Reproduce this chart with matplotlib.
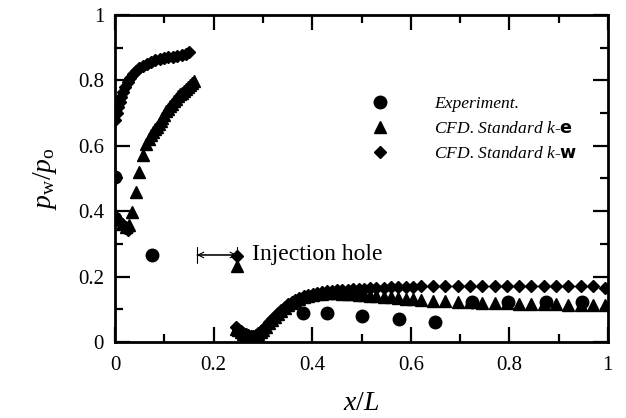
import matplotlib
matplotlib.use("Agg")
import matplotlib.pyplot as plt

plt.rcParams['font.family'] = ['Liberation Serif', 'DejaVu Serif']
plt.rcParams['mathtext.fontset'] = 'custom'
plt.rcParams['mathtext.rm'] = 'Liberation Serif'
plt.rcParams['mathtext.it'] = 'Liberation Serif:italic'
plt.rcParams['mathtext.bf'] = 'DejaVu Sans:bold'

# Experiment
exp_x = [0.0, 0.074, 0.381, 0.43, 0.501, 0.576, 0.649, 0.724, 0.797, 0.874, 0.947]
exp_y = [0.505, 0.266, 0.088, 0.089, 0.080, 0.070, 0.061, 0.122, 0.122, 0.122, 0.122]

# CFD k-epsilon, upstream of the hole
ke_up_x = [0.0, 0.007, 0.014, 0.021, 0.028, 0.034, 0.042, 0.049, 0.056, 0.062,
           0.068, 0.072, 0.076, 0.08, 0.084, 0.088, 0.092, 0.096, 0.1, 0.104,
           0.108, 0.112, 0.116, 0.12, 0.124, 0.128, 0.132, 0.136, 0.14, 0.144,
           0.148, 0.152, 0.156, 0.16]
ke_up_y = [0.39, 0.375, 0.36, 0.352, 0.358, 0.398, 0.459, 0.52, 0.572, 0.605,
           0.622, 0.632, 0.641, 0.65, 0.658, 0.667, 0.676, 0.685, 0.695, 0.705,
           0.713, 0.721, 0.729, 0.737, 0.744, 0.751, 0.757, 0.763, 0.769, 0.775,
           0.781, 0.787, 0.793, 0.799]

# CFD k-omega, upstream of the hole
kw_up_x = [0.0, 0.007, 0.014, 0.02, 0.026,
           0.0, 0.003, 0.006, 0.009, 0.012, 0.016, 0.02, 0.025, 0.03, 0.036,
           0.042, 0.049, 0.056, 0.064, 0.072, 0.081, 0.09, 0.099, 0.108, 0.117,
           0.126, 0.135, 0.143, 0.15]
kw_up_y = [0.385, 0.37, 0.36, 0.35, 0.343,
           0.68, 0.70, 0.72, 0.735, 0.75, 0.765, 0.78, 0.795, 0.808, 0.82,
           0.83, 0.838, 0.845, 0.851, 0.856, 0.861, 0.865, 0.868, 0.871, 0.873,
           0.876, 0.879, 0.882, 0.886]

# at the injection hole
hole_ke = (0.247, 0.232)
hole_kw = (0.247, 0.262)

# downstream of the hole
down_x = [0.245, 0.25, 0.255, 0.26, 0.265, 0.27, 0.275, 0.28, 0.285, 0.29,
          0.295, 0.3, 0.306, 0.312, 0.318, 0.324, 0.33, 0.337, 0.344, 0.351,
          0.358, 0.366, 0.374, 0.383, 0.392, 0.401, 0.41, 0.42, 0.43, 0.44,
          0.45, 0.461, 0.472, 0.483, 0.494, 0.506, 0.518, 0.53, 0.545, 0.56,
          0.575, 0.59, 0.605, 0.62, 0.645, 0.67, 0.695, 0.72, 0.745, 0.77,
          0.795, 0.82, 0.845, 0.87, 0.895, 0.92, 0.945, 0.97, 0.995]
ke_down_y = [0.04, 0.035, 0.03, 0.025, 0.02, 0.017, 0.015, 0.016, 0.02, 0.025,
             0.031, 0.038, 0.047, 0.057, 0.067, 0.077, 0.086, 0.095, 0.104, 0.112,
             0.119, 0.126, 0.132, 0.137, 0.141, 0.144, 0.146, 0.148, 0.149, 0.149,
             0.149, 0.148, 0.147, 0.146, 0.145, 0.143, 0.142, 0.14, 0.138, 0.136,
             0.134, 0.132, 0.13, 0.128, 0.126, 0.124, 0.122, 0.121, 0.12, 0.119,
             0.118, 0.117, 0.116, 0.116, 0.115, 0.114, 0.114, 0.113, 0.112]
kw_down_y = [0.045, 0.04, 0.034, 0.028, 0.023, 0.02, 0.018, 0.019, 0.022, 0.027,
             0.033, 0.04, 0.05, 0.06, 0.07, 0.08, 0.089, 0.098, 0.107, 0.115,
             0.122, 0.129, 0.135, 0.14, 0.145, 0.148, 0.151, 0.153, 0.155, 0.157,
             0.158, 0.159, 0.16, 0.161, 0.162, 0.163, 0.164, 0.165, 0.166, 0.167,
             0.168, 0.168, 0.169, 0.17, 0.17, 0.171, 0.171, 0.172, 0.172, 0.172,
             0.172, 0.172, 0.172, 0.172, 0.172, 0.171, 0.17, 0.17, 0.165]

hole_start = 0.166
hole_end = 0.247
hole_y = 0.266

fig = plt.figure(figsize=(6.26, 4.18), dpi=100)
ax = fig.add_axes([0.184, 0.182, 0.787, 0.782])

ax.plot(exp_x, exp_y, 'o', color='black', ms=9, ls='none', label='Experiment.', zorder=3)
ax.plot(ke_up_x + [hole_ke[0]] + down_x, ke_up_y + [hole_ke[1]] + ke_down_y, '^',
        color='black', ms=8, ls='none',
        label=r'CFD. Standard k-$\mathbf{e}$')
ax.plot(kw_up_x + [hole_kw[0]] + down_x, kw_up_y + [hole_kw[1]] + kw_down_y, 'D',
        color='black', ms=6.6, ls='none',
        label=r'CFD. Standard k-$\mathbf{w}$')

# injection hole marker
ax.annotate('', xy=(hole_start, hole_y), xytext=(hole_end, hole_y),
            arrowprops=dict(arrowstyle='<->', lw=0.8, color='black', shrinkA=0, shrinkB=0))
ax.annotate('', xy=(hole_start, hole_y), xytext=(hole_end, hole_y),
            arrowprops=dict(arrowstyle='|-|,widthA=0.6,widthB=0.6', lw=0.8, color='black',
                            shrinkA=0, shrinkB=0))
ax.text(0.278, hole_y, 'Injection hole', fontsize=17, va='center', ha='left')

ax.set_xlim(0, 1)
ax.set_ylim(0, 1)
ax.set_xticks([0, 0.2, 0.4, 0.6, 0.8, 1])
ax.set_xticklabels(['0', '0.2', '0.4', '0.6', '0.8', '1'])
ax.set_yticks([0, 0.2, 0.4, 0.6, 0.8, 1])
ax.set_yticklabels(['0', '0.2', '0.4', '0.6', '0.8', '1'])
ax.set_xticks([0.1, 0.3, 0.5, 0.7, 0.9], minor=True)
ax.set_yticks([0.1, 0.3, 0.5, 0.7, 0.9], minor=True)
ax.tick_params(which='both', direction='in', top=True, right=True, width=1.6, labelsize=15)
ax.tick_params(which='major', length=11)
ax.tick_params(axis='x', which='major', pad=10)
ax.tick_params(axis='y', which='major', pad=8)
ax.tick_params(which='minor', length=6)
for s in ax.spines.values():
    s.set_linewidth(2)

ax.set_xlabel(r'$x/L$', fontsize=20, labelpad=12)
ax.set_ylabel(r'$p_{\rm w}/p_{\rm o}$', fontsize=20, labelpad=14)

ax.legend(loc='upper left', bbox_to_anchor=(0.47, 0.8), frameon=False, numpoints=1,
          prop={'size': 12.6, 'style': 'italic'}, handletextpad=2.1, labelspacing=0.5)

fig.savefig('out.png', dpi=100)
